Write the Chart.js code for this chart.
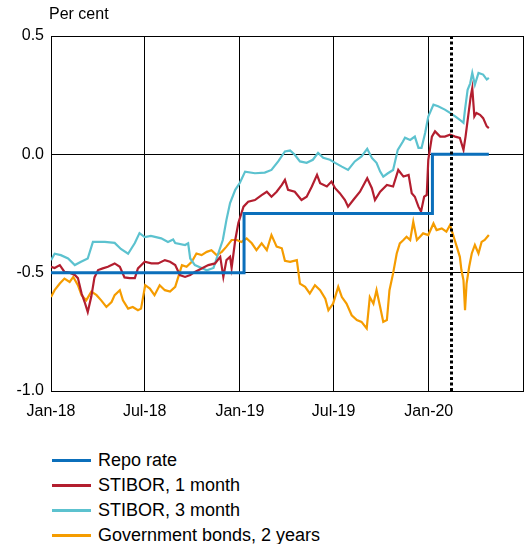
<!DOCTYPE html>
<html>
<head>
<meta charset="utf-8">
<script src="https://cdn.jsdelivr.net/npm/chart.js@4/dist/chart.umd.min.js"></script>
<style>
  body { margin: 0; background: #fff; font-family: "Liberation Sans", Arial, sans-serif; color: #000; }
  #wrap { position: relative; width: 528px; height: 544px; }
  #chart-box { position: absolute; left: 0; top: 0; width: 528px; height: 430px; }
  #unit { position: absolute; left: 49px; top: 5px; font-size: 16px; line-height: 18px; }
  #legend { position: absolute; left: 52px; top: 448.6px; font-size: 18px; }
  .legend-row { display: flex; align-items: center; height: 24.7px; }
  .legend-line { width: 39px; height: 3px; margin-right: 7px; }
</style>
</head>
<body>
<div id="wrap">
  <div id="chart-box"><canvas id="rateChart"></canvas></div>
  <div id="unit">Per cent</div>
  <div id="legend"></div>
</div>
<script>
// x values are days counted from 1 Jan 2018
const tickDays = [0, 181, 365, 546, 730, 912];
const tickLabels = ["Jan-18", "Jul-18", "Jan-19", "Jul-19", "Jan-20", ""];
const markerDay = 773;

const repoDays = [0, 373, 737, 846];
const repoRate = [-0.5, -0.25, 0, 0];

const stibor1mDays = [0, 7, 17, 26, 36, 46, 52, 59, 65, 71, 78, 84, 91, 100, 110, 123, 133, 142, 152, 162,
  168, 181, 194, 207, 220, 230, 240, 249, 259, 269, 278, 291, 304, 317, 327, 333, 339, 346, 349, 356,
  362, 372, 381, 394, 407, 417, 426, 436, 446, 452, 458, 471, 484, 494, 504, 514, 520, 533, 542, 549,
  558, 568, 574, 584, 597, 611, 620, 626, 636, 649, 661, 671, 681, 691, 697, 703, 710, 715, 721, 726,
  729, 736, 742, 752, 761, 771, 781, 790, 797, 801, 806, 811, 814, 818, 822, 829, 835, 842, 846];
const stibor1m = [-0.475, -0.48, -0.468, -0.497, -0.50, -0.51, -0.523, -0.587, -0.624, -0.666,
  -0.60, -0.52, -0.489, -0.482, -0.475, -0.461, -0.475, -0.52, -0.523, -0.523,
  -0.482, -0.454, -0.461, -0.461, -0.447, -0.454, -0.468, -0.51, -0.518, -0.51,
  -0.497, -0.482, -0.468, -0.461, -0.433, -0.518, -0.447, -0.433, -0.48, -0.362,
  -0.29, -0.221, -0.20, -0.193, -0.172, -0.158, -0.179, -0.158, -0.129, -0.108,
  -0.15, -0.158, -0.193, -0.179, -0.136, -0.087, -0.122, -0.136, -0.115, -0.143,
  -0.164, -0.193, -0.221, -0.193, -0.158, -0.101, -0.143, -0.193, -0.158, -0.129,
  -0.136, -0.066, -0.094, -0.087, -0.164, -0.179, -0.221, -0.242, -0.179, -0.172,
  -0.023, 0.075, 0.097, 0.075, 0.075, 0.083, 0.075, 0.069, 0.019, 0.075,
  0.16, 0.245, 0.28, 0.16, 0.175, 0.167, 0.153, 0.118, 0.111];

const stibor3mDays = [0, 7, 19, 33, 46, 58, 71, 81, 91, 104, 123, 135, 149, 162, 171, 181, 193, 213, 226, 236,
  240, 259, 265, 269, 278, 291, 301, 314, 323, 332, 339, 346, 356, 365, 375, 394, 413, 426, 439, 452,
  462, 471, 481, 494, 506, 516, 526, 539, 549, 562, 574, 587, 600, 611, 620, 629, 636, 642, 651, 661,
  670, 680, 684, 694, 703, 710, 716, 723, 729, 739, 748, 761, 771, 781, 790, 797, 800, 805, 810, 814,
  819, 826, 835, 842, 846];
const stibor3m = [-0.447, -0.42, -0.426, -0.44, -0.468, -0.454, -0.44, -0.37, -0.37, -0.37,
  -0.374, -0.40, -0.42, -0.375, -0.333, -0.35, -0.345, -0.355, -0.37, -0.36,
  -0.375, -0.383, -0.376, -0.44, -0.468, -0.48, -0.49, -0.48, -0.42, -0.362,
  -0.277, -0.206, -0.15, -0.12, -0.073, -0.08, -0.077, -0.066, -0.03, 0.012,
  0.016, -0.002, -0.03, -0.036, -0.023, 0.006, -0.015, -0.023, -0.036, -0.052,
  -0.066, -0.03, -0.009, 0.023, -0.015, -0.036, -0.073, -0.094, -0.08, -0.066,
  0.019, 0.054, 0.07, 0.061, 0.075, 0.027, 0.027, 0.091, 0.16, 0.21,
  0.203, 0.189, 0.175, 0.16, 0.146, 0.133, 0.19, 0.273, 0.30, 0.344,
  0.294, 0.344, 0.337, 0.316, 0.323];

const bond2yDays = [0, 7, 17, 26, 36, 43, 52, 59, 68, 78, 88, 97, 107, 117, 123, 133, 139, 149, 158, 168,
  174, 182, 191, 200, 210, 220, 230, 240, 246, 253, 262, 272, 281, 291, 301, 310, 320, 330, 339, 349,
  359, 368, 378, 388, 397, 407, 417, 426, 436, 446, 452, 462, 475, 481, 491, 500, 510, 520, 530, 536,
  545, 555, 562, 571, 581, 591, 600, 610, 616, 623, 629, 636, 642, 649, 654, 661, 668, 674, 681, 687,
  694, 700, 707, 713, 719, 729, 739, 745, 755, 764, 771, 777, 784, 790, 793, 797, 800, 803, 808, 813,
  819, 826, 832, 838, 846];
const bond2y = [-0.603, -0.574, -0.546, -0.525, -0.539, -0.518, -0.553, -0.595, -0.617, -0.58,
  -0.595, -0.617, -0.645, -0.624, -0.595, -0.574, -0.617, -0.652, -0.645, -0.659,
  -0.652, -0.553, -0.567, -0.595, -0.553, -0.574, -0.58, -0.56, -0.518, -0.468,
  -0.475, -0.454, -0.419, -0.426, -0.412, -0.405, -0.426, -0.412, -0.39, -0.362,
  -0.362, -0.37, -0.355, -0.376, -0.405, -0.376, -0.405, -0.341, -0.39, -0.397,
  -0.45, -0.454, -0.447, -0.546, -0.56, -0.588, -0.553, -0.574, -0.61, -0.659,
  -0.631, -0.56, -0.603, -0.631, -0.68, -0.70, -0.708, -0.736, -0.603, -0.631,
  -0.574, -0.645, -0.708, -0.70, -0.574, -0.503, -0.419, -0.376, -0.362, -0.348,
  -0.362, -0.285, -0.362, -0.348, -0.334, -0.341, -0.292, -0.32, -0.313, -0.327,
  -0.299, -0.341, -0.39, -0.433, -0.489, -0.532, -0.659, -0.546, -0.475, -0.419,
  -0.383, -0.419, -0.37, -0.362, -0.341];

const seriesNames = ["Repo rate", "STIBOR, 1 month", "STIBOR, 3 month", "Government bonds, 2 years"];
const seriesColors = ["#0b6fbb", "#b31e2f", "#5cc2cf", "#f59c00"];

const toPoints = (days, vals) => days.map((d, i) => ({ x: d, y: vals[i] }));

const markerLine = {
  id: "markerLine",
  afterDatasetsDraw(chart) {
    const { ctx, chartArea, scales } = chart;
    const x = Math.round(scales.x.getPixelForValue(markerDay)) + 0.5;
    ctx.save();
    ctx.strokeStyle = "#000";
    ctx.lineWidth = 3;
    ctx.setLineDash([3, 2.5]);
    ctx.beginPath();
    ctx.moveTo(x, chartArea.top);
    ctx.lineTo(x, chartArea.bottom);
    ctx.stroke();
    ctx.restore();
  },
};

const datasets = [
  { data: toPoints(repoDays, repoRate), borderWidth: 3, stepped: "before" },
  { data: toPoints(stibor1mDays, stibor1m), borderWidth: 2.2 },
  { data: toPoints(stibor3mDays, stibor3m), borderWidth: 2.2 },
  { data: toPoints(bond2yDays, bond2y), borderWidth: 2.2 },
].map((ds, i) => ({
  ...ds,
  label: seriesNames[i],
  borderColor: seriesColors[i],
  backgroundColor: seriesColors[i],
  pointRadius: 0,
  tension: 0,
  fill: false,
}));

new Chart(document.getElementById("rateChart"), {
  type: "line",
  data: { datasets },
  plugins: [markerLine],
  options: {
    responsive: true,
    maintainAspectRatio: false,
    animation: false,
    layout: { padding: { top: 36, right: 0, left: 0, bottom: 0 } },
    plugins: { legend: { display: false }, tooltip: { enabled: false } },
    scales: {
      x: {
        type: "linear",
        min: 0,
        max: 912,
        afterFit: (scale) => {
          scale.height = 39;
          scale.paddingLeft = 0;
          scale.paddingRight = 5;
        },
        afterBuildTicks: (scale) => { scale.ticks = tickDays.map((v) => ({ value: v })); },
        ticks: {
          autoSkip: false,
          maxRotation: 0,
          padding: 11,
          color: "#000",
          font: { family: "Liberation Sans", size: 16 },
          callback: (v, i) => tickLabels[i],
        },
        grid: { color: "#000", lineWidth: 1, drawTicks: false },
        border: { color: "#000" },
      },
      y: {
        min: -1,
        max: 0.5,
        afterFit: (scale) => { scale.width = 51; },
        ticks: {
          stepSize: 0.5,
          padding: 7,
          color: "#000",
          font: { family: "Liberation Sans", size: 16 },
          callback: (v) => v.toFixed(1),
        },
        grid: { color: "#000", lineWidth: 1, drawTicks: false },
        border: { color: "#000" },
      },
    },
  },
});

const legendEl = document.getElementById("legend");
seriesNames.forEach((name, i) => {
  const row = document.createElement("div");
  row.className = "legend-row";
  const line = document.createElement("span");
  line.className = "legend-line";
  line.style.background = seriesColors[i];
  const text = document.createElement("span");
  text.textContent = name;
  row.appendChild(line);
  row.appendChild(text);
  legendEl.appendChild(row);
});
</script>
</body>
</html>
